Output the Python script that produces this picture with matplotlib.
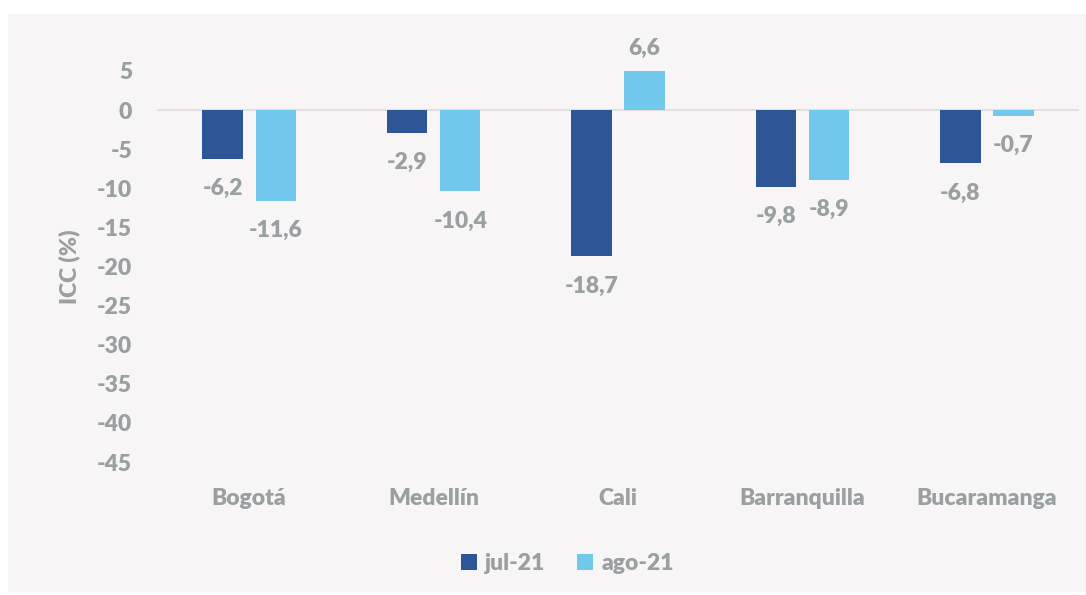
import matplotlib.pyplot as plt
import matplotlib.patches as mpatches
import numpy as np

# ICC por ciudad
cities = ["Bogotá", "Medellín", "Cali", "Barranquilla", "Bucaramanga"]
jul_21 = [-6.2, -2.9, -18.7, -9.8, -6.8]
ago_21 = [-11.6, -10.4, 6.6, -8.9, -0.7]
series_names = ["jul-21", "ago-21"]
yticks = [5, 0, -5, -10, -15, -20, -25, -30, -35, -40, -45]

dark = "#2e5596"
light = "#70c8ec"
grey = "#9a9fa1"
bg = "#f7f5f6"
wt = 800

plt.rcParams["font.family"] = ["Lato", "DejaVu Sans"]
plt.rcParams["font.weight"] = wt

fig = plt.figure(figsize=(10.86, 5.95), dpi=100, facecolor="white")
# grey chart area inside a thin white border
fig.patches.append(mpatches.Rectangle((8 / 1086, 3 / 595), 1078 / 1086, 578 / 595,
                                      transform=fig.transFigure, facecolor=bg,
                                      edgecolor="none", zorder=-10))
ax = fig.add_axes([0.1446, 0.2235, 0.8490, 0.6572])
ax.set_facecolor("none")

x = np.arange(len(cities))
w = 0.22
off = 0.144
b1 = ax.bar(x - off, jul_21, w, color=dark, label=series_names[0], zorder=3)
b2 = ax.bar(x + off, ago_21, w, color=light, label=series_names[1], zorder=3)

for bars, vals in ((b1, jul_21), (b2, ago_21)):
    for rect, v in zip(bars, vals):
        dy = 7.5 if v > 0 else -21.5
        ax.annotate(f"{v:.1f}".replace(".", ","),
                    (rect.get_x() + rect.get_width() / 2, v),
                    xytext=(0, dy), textcoords="offset points",
                    ha="center", va="center", fontsize=16.5,
                    color=grey, fontweight=wt, annotation_clip=False)

ax.axhline(0, color="#dcdcdc", lw=1.2, zorder=2)
ax.set_ylim(-45, 5)
ax.set_xlim(-0.5, len(cities) - 0.5)
ax.set_yticks(yticks)
ax.set_yticklabels([str(t) for t in yticks])
ax.set_xticks(x)
ax.set_xticklabels(cities)
ax.tick_params(axis="both", length=0, labelsize=16.5, labelcolor=grey)
ax.tick_params(axis="y", pad=18)
ax.tick_params(axis="x", pad=19)
for s in ax.spines.values():
    s.set_visible(False)
ax.set_ylabel("ICC (%)", fontsize=16.5, color=grey, fontweight=wt, labelpad=12)

ax.legend(loc="upper center", bbox_to_anchor=(0.445, -0.18), ncol=2, frameon=False,
          labelcolor=grey, handlelength=0.7, handleheight=0.7,
          handletextpad=0.35, columnspacing=1.4, prop={"weight": wt, "size": 16.5})

fig.savefig("out.png", dpi=100, facecolor="white")
